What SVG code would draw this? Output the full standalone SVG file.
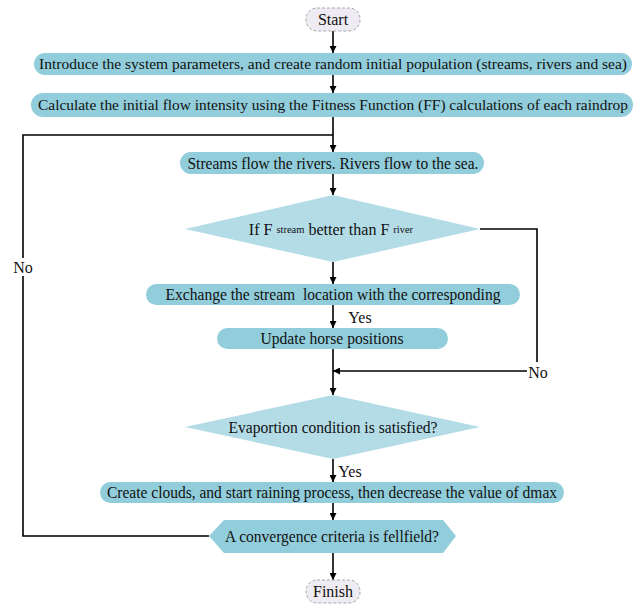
<svg xmlns="http://www.w3.org/2000/svg" width="640" height="605" viewBox="0 0 640 605">
<style>
text{font-family:"Liberation Serif","Times New Roman",serif;font-size:16px;fill:#111;text-anchor:middle;dominant-baseline:central;white-space:pre}
.long{font-size:15px}
.box{fill:#92cddb}
.dia{fill:#b3dce7}
.term{fill:#eeebf3;stroke:#a8a8a8;stroke-dasharray:3 2;stroke-width:1}
.ln{fill:none;stroke:#000;stroke-width:1.6}
.sm{font-size:10.5px}
</style>
<defs>
<marker id="ah" viewBox="0 0 10 10" refX="10" refY="5" markerWidth="7" markerHeight="7" markerUnits="userSpaceOnUse" orient="auto">
<path d="M0,0 L10,5 L0,10 z" fill="#000"/>
</marker>
</defs>
<rect width="640" height="605" fill="#fff"/>
<g id="connectors">
<line class="ln" x1="333" y1="31" x2="333" y2="53" marker-end="url(#ah)"/>
<line class="ln" x1="333" y1="75" x2="333" y2="93" marker-end="url(#ah)"/>
<line class="ln" x1="333" y1="117" x2="333" y2="152" marker-end="url(#ah)"/>
<line class="ln" x1="333" y1="174" x2="333" y2="195" marker-end="url(#ah)"/>
<line class="ln" x1="333" y1="262" x2="333" y2="284" marker-end="url(#ah)"/>
<line class="ln" x1="333" y1="305" x2="333" y2="328" marker-end="url(#ah)"/>
<text x="360" y="317">Yes</text>
<line class="ln" x1="333" y1="349" x2="333" y2="395" marker-end="url(#ah)"/>
<polyline class="ln" points="480,229 537,229 537,362"/>
<line class="ln" x1="527" y1="371" x2="333" y2="371" marker-end="url(#ah)"/>
<text x="538" y="372">No</text>
<line class="ln" x1="333" y1="459" x2="333" y2="482" marker-end="url(#ah)"/>
<text x="350" y="471">Yes</text>
<line class="ln" x1="333" y1="503" x2="333" y2="520" marker-end="url(#ah)"/>
<line class="ln" x1="333" y1="553" x2="333" y2="580" marker-end="url(#ah)"/>
<polyline class="ln" points="209,536 23,536 23,276"/>
<polyline class="ln" points="23,258 23,135 333,135"/>
<text x="23" y="267">No</text>
</g>
<g id="start">
<rect class="term" x="306" y="8" width="54" height="23" rx="11"/>
<text x="333" y="19.5">Start</text>
</g>
<g id="init">
<rect class="box" x="34" y="53" width="598" height="22" rx="11"/>
<text class="long" x="333" y="64" textLength="588" lengthAdjust="spacingAndGlyphs">Introduce the system parameters, and create random initial population (streams, rivers and sea)</text>
</g>
<g id="fitness">
<rect class="box" x="31" y="93" width="602" height="24" rx="12"/>
<text class="long" x="333" y="105" textLength="590" lengthAdjust="spacingAndGlyphs">Calculate the initial flow intensity using the Fitness Function (FF) calculations of each raindrop</text>
</g>
<g id="flow">
<rect class="box" x="180" y="152" width="304" height="22" rx="11"/>
<text x="333" y="163" textLength="291" lengthAdjust="spacingAndGlyphs">Streams flow the rivers. Rivers flow to the sea.</text>
</g>
<g id="decision1">
<polygon class="dia" points="333,195 480,229 333,262 185,229"/>
<text x="331" y="229">If F <tspan class="sm">stream</tspan> better than F <tspan class="sm">river</tspan></text>
</g>
<g id="exchange">
<rect class="box" x="146" y="284" width="374" height="21" rx="10.5"/>
<text x="333" y="294.5" textLength="335" lengthAdjust="spacingAndGlyphs">Exchange the stream  location with the corresponding</text>
</g>
<g id="update">
<rect class="box" x="217" y="328" width="231" height="21" rx="10.5"/>
<text x="332" y="338.5" textLength="143" lengthAdjust="spacingAndGlyphs">Update horse positions</text>
</g>
<g id="decision2">
<polygon class="dia" points="333,395 480,427 333,459 185,427"/>
<text x="333" y="427" textLength="209" lengthAdjust="spacingAndGlyphs">Evaportion condition is satisfied?</text>
</g>
<g id="clouds">
<rect class="box" x="100" y="482" width="464" height="21" rx="10.5"/>
<text x="332" y="492.5" textLength="450" lengthAdjust="spacingAndGlyphs">Create clouds, and start raining process, then decrease the value of dmax</text>
</g>
<g id="convergence">
<polygon class="box" points="209,536 224,520 443,520 456,536 443,553 224,553"/>
<text x="332" y="536.5" textLength="214" lengthAdjust="spacingAndGlyphs">A convergence criteria is fellfield?</text>
</g>
<g id="finish">
<rect class="term" x="306" y="580" width="54" height="23" rx="11"/>
<text x="333" y="591.5">Finish</text>
</g>
</svg>
